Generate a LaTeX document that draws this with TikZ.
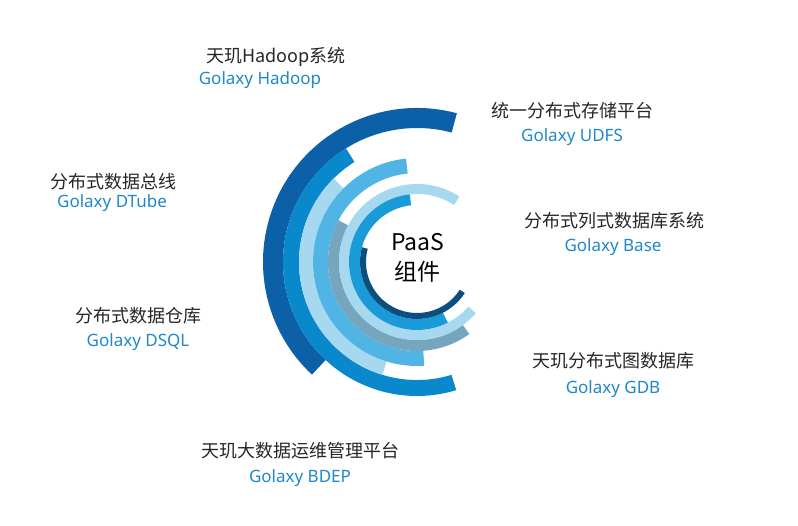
\documentclass[tikz,border=0pt]{standalone}
\usepackage{fontspec}
\newfontfamily\cjk{Noto Sans CJK SC}
\newfontfamily\latin{Noto Sans}
\usetikzlibrary{positioning}
\definecolor{ringdark}{RGB}{12,96,168}
\definecolor{ringmid}{RGB}{10,136,204}
\definecolor{ringpale}{RGB}{166,216,240}
\definecolor{ringsky}{RGB}{80,180,228}
\definecolor{ringgrey}{RGB}{118,166,190}
\definecolor{ringbright}{RGB}{26,154,214}
\definecolor{ringnavy}{RGB}{12,78,128}
\definecolor{golaxyblue}{RGB}{30,136,200}
\tikzset{
  cnlabel/.style={font=\cjk\fontsize{18}{20}\selectfont, text=black!85},
  enlabel/.style={font=\latin\fontsize{17}{19}\selectfont, text=golaxyblue},
}

\begin{document}
\begin{tikzpicture}[x=1pt,y=1pt]
\useasboundingbox (0,0) rectangle (798,525);

% Rings
\begin{scope}[shift={(417,263)}]
\fill[ringdark] (75:154) arc[start angle=75,end angle=227,radius=154] -- (227:134) arc[start angle=227,end angle=75,radius=134] -- cycle;
\fill[ringmid] (122:134) arc[start angle=122,end angle=287,radius=134] -- (287:118) arc[start angle=287,end angle=122,radius=118] -- cycle;
\fill[ringpale] (135:118) arc[start angle=135,end angle=253,radius=118] -- (253:104) arc[start angle=253,end angle=135,radius=104] -- cycle;
\fill[ringsky] (96:104) arc[start angle=96,end angle=274,radius=104] -- (274:89) arc[start angle=274,end angle=96,radius=89] -- cycle;
\fill[ringgrey] (152:89) arc[start angle=152,end angle=306,radius=89] -- (306:78) arc[start angle=306,end angle=152,radius=78] -- cycle;
\fill[ringpale] (57:78) arc[start angle=57,end angle=319,radius=78] -- (319:68) arc[start angle=319,end angle=57,radius=68] -- cycle;
\fill[ringbright] (96:68) arc[start angle=96,end angle=297,radius=68] -- (297:57) arc[start angle=297,end angle=96,radius=57] -- cycle;
\fill[ringnavy] (165:57) arc[start angle=165,end angle=327,radius=57] -- (327:51) arc[start angle=327,end angle=165,radius=51] -- cycle;
\end{scope}

% Centre
\node[font=\cjk\fontsize{23}{25}\selectfont] (paas) at (418,283) {PaaS};
\node[font=\cjk\fontsize{23}{25}\selectfont] (zujian) at (417,253) {组件};

% Labels
\node[cnlabel] (hadoopcn) at (276,468) {天玑Hadoop系统};
\node[enlabel] (hadoopen) at (260,445) {Golaxy Hadoop};
\node[cnlabel] (udfscn) at (572,414) {统一分布式存储平台};
\node[enlabel] (udfsen) at (572,388) {Golaxy UDFS};
\node[cnlabel] (dtubecn) at (113,343) {分布式数据总线};
\node[enlabel] (dtubeen) at (112,322) {Golaxy DTube};
\node[cnlabel] (basecn) at (614,304) {分布式列式数据库系统};
\node[enlabel] (baseen) at (613,278) {Golaxy Base};
\node[cnlabel] (dsqlcn) at (138,209) {分布式数据仓库};
\node[enlabel] (dsqlen) at (138,183) {Golaxy DSQL};
\node[cnlabel] (gdbcn) at (613,164) {天玑分布式图数据库};
\node[enlabel] (gdben) at (613,136) {Golaxy GDB};
\node[cnlabel] (bdepcn) at (300,74) {天玑大数据运维管理平台};
\node[enlabel] (bdepen) at (300,47) {Golaxy BDEP};
\end{tikzpicture}
\end{document}
